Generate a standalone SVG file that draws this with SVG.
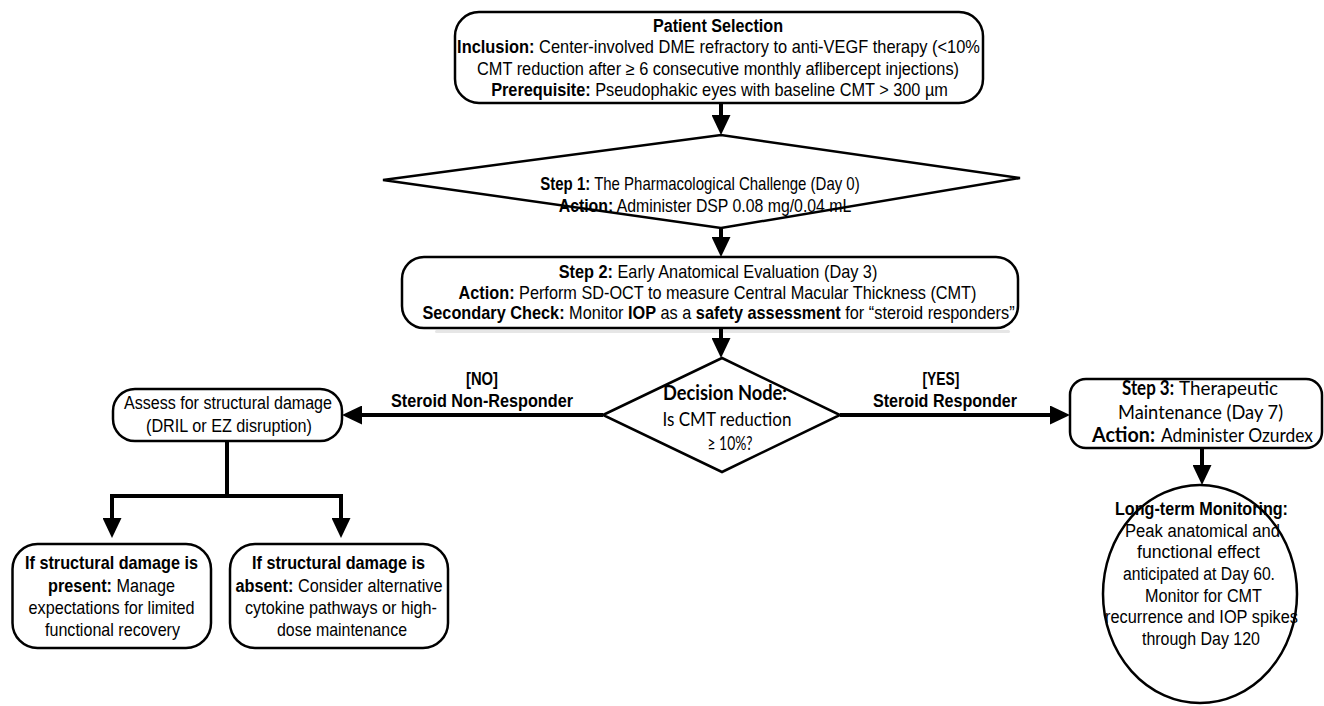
<svg xmlns="http://www.w3.org/2000/svg" width="1324" height="706" viewBox="0 0 1324 706">
<style>
.box{fill:#fff;stroke:#000;stroke-width:2.5}
.con{fill:none;stroke:#000;stroke-width:4;stroke-linejoin:miter}
.a{font-family:"Liberation Sans",Arial,sans-serif;font-size:18px;fill:#000;text-anchor:middle}
.a19{font-size:19px}
.c{font-family:Lato,"Open Sans",sans-serif;font-size:20px;fill:#000;text-anchor:middle}
.s{text-anchor:start}
.b{font-weight:bold}
</style>
<defs>
<marker id="ah" markerUnits="userSpaceOnUse" markerWidth="20" markerHeight="19" viewBox="0 0 20 19" refX="10" refY="9.5" orient="auto">
<path d="M0,0 L20,9.5 L0,19 z" fill="#000"/>
</marker>
</defs>
<rect width="1324" height="706" fill="#fff"/>
<rect x="435" y="330" width="575" height="3" rx="1.5" fill="#e6e6e6"/>

<g id="connectors">
<path class="con" d="M721,103 V125" marker-end="url(#ah)"/>
<path class="con" d="M721,228 V247" marker-end="url(#ah)"/>
<path class="con" d="M721,328 V348" marker-end="url(#ah)"/>
<path class="con" d="M603,415 H352" marker-end="url(#ah)"/>
<path class="con" d="M840,415 H1060" marker-end="url(#ah)"/>
<path class="con" d="M1202,448 V475" marker-end="url(#ah)"/>
<path class="con" d="M227,441 V496"/>
<path class="con" d="M229,496 H112 V528" marker-end="url(#ah)"/>
<path class="con" d="M225,496 H341 V528" marker-end="url(#ah)"/>
<text class="a b" x="482" y="385" textLength="32" lengthAdjust="spacingAndGlyphs">[NO]</text>
<text class="a b" x="482" y="407" textLength="182" lengthAdjust="spacingAndGlyphs">Steroid Non-Responder</text>
<text class="a b" x="941" y="385" textLength="37" lengthAdjust="spacingAndGlyphs">[YES]</text>
<text class="a b" x="945" y="407" textLength="144" lengthAdjust="spacingAndGlyphs">Steroid Responder</text>
</g>

<g id="patient-selection">
<rect class="box" x="455" y="12" width="528" height="91" rx="24"/>
<text class="a b" x="718" y="32" textLength="130" lengthAdjust="spacingAndGlyphs">Patient Selection</text>
<text class="a" transform="translate(718.5,53) scale(0.9116,1)"><tspan class="b">Inclusion:</tspan> Center-involved DME refractory to anti-VEGF therapy (&lt;10%</text>
<text class="a" x="718" y="75" textLength="482" lengthAdjust="spacingAndGlyphs">CMT reduction after ≥ 6 consecutive monthly aflibercept injections)</text>
<text class="a" transform="translate(719.5,96) scale(0.9055,1)"><tspan class="b">Prerequisite:</tspan> Pseudophakic eyes with baseline CMT &gt; 300 µm</text>
</g>

<g id="step1">
<polygon class="box" points="383,180 721,135 1020,178 721,228"/>
<text class="a" transform="translate(700,190) scale(0.833,1)"><tspan class="b">Step 1:</tspan> The Pharmacological Challenge (Day 0)</text>
<text class="a" transform="translate(705,212) scale(0.88,1)"><tspan class="b">Action:</tspan> Administer DSP 0.08 mg/0.04 mL</text>
</g>

<g id="step2">
<rect class="box" x="402" y="257" width="616" height="71" rx="22"/>
<text class="a" transform="translate(718,278) scale(0.906,1)"><tspan class="b">Step 2:</tspan> Early Anatomical Evaluation (Day 3)</text>
<text class="a" transform="translate(717.5,299) scale(0.904,1)"><tspan class="b">Action:</tspan> Perform SD-OCT to measure Central Macular Thickness (CMT)</text>
<text class="a" transform="translate(718.5,319) scale(0.906,1)"><tspan class="b">Secondary Check:</tspan> Monitor <tspan class="b">IOP</tspan> as a <tspan class="b">safety assessment</tspan> for “steroid responders”</text>
</g>

<g id="decision">
<polygon class="box" points="603,415 722,358 840,415 722,472"/>
<text class="c b" x="725" y="400" textLength="124" lengthAdjust="spacingAndGlyphs">Decision Node:</text>
<text class="c" x="727" y="426" textLength="129" lengthAdjust="spacingAndGlyphs">Is CMT reduction</text>
<text class="c" x="730" y="450" textLength="45" lengthAdjust="spacingAndGlyphs">≥ 10%?</text>
</g>

<g id="assess">
<rect class="box" x="113" y="389" width="229" height="52" rx="22"/>
<text class="a" x="228" y="409" textLength="208" lengthAdjust="spacingAndGlyphs">Assess for structural damage</text>
<text class="a" x="229" y="432" textLength="166" lengthAdjust="spacingAndGlyphs">(DRIL or EZ disruption)</text>
</g>

<g id="step3">
<rect class="box" x="1070" y="379" width="252" height="69" rx="16"/>
<text class="c s b" x="1122" y="395" textLength="52" lengthAdjust="spacingAndGlyphs">Step 3:</text>
<text class="c s" x="1179" y="395" textLength="99" lengthAdjust="spacingAndGlyphs">Therapeutic</text>
<text class="c" x="1200.5" y="419" textLength="165" lengthAdjust="spacingAndGlyphs">Maintenance (Day 7)</text>
<text class="c s b" x="1092" y="442" textLength="63" lengthAdjust="spacingAndGlyphs">Action:</text>
<text class="c s" x="1161" y="442" textLength="152" lengthAdjust="spacingAndGlyphs">Administer Ozurdex</text>
</g>

<g id="monitoring">
<ellipse class="box" cx="1200" cy="594" rx="97" ry="109"/>
<text class="a b" x="1201.5" y="515" textLength="173" lengthAdjust="spacingAndGlyphs">Long-term Monitoring:</text>
<text class="a" x="1202.5" y="537" textLength="155" lengthAdjust="spacingAndGlyphs">Peak anatomical and</text>
<text class="a" x="1198.5" y="558" textLength="123" lengthAdjust="spacingAndGlyphs">functional effect</text>
<text class="a" x="1199" y="580" textLength="152" lengthAdjust="spacingAndGlyphs">anticipated at Day 60.</text>
<text class="a" x="1203.5" y="602" textLength="117" lengthAdjust="spacingAndGlyphs">Monitor for CMT</text>
<text class="a" x="1201.5" y="623" textLength="193" lengthAdjust="spacingAndGlyphs">recurrence and IOP spikes</text>
<text class="a" x="1201" y="645" textLength="118" lengthAdjust="spacingAndGlyphs">through Day 120</text>
</g>

<g id="damage-present">
<rect class="box" x="12.5" y="544" width="198.5" height="104" rx="25"/>
<text class="a a19 b" x="111.5" y="569" textLength="173" lengthAdjust="spacingAndGlyphs">If structural damage is</text>
<text class="a a19" transform="translate(111.5,591.5) scale(0.853,1)"><tspan class="b">present:</tspan> Manage</text>
<text class="a a19" x="111.5" y="614" textLength="166" lengthAdjust="spacingAndGlyphs">expectations for limited</text>
<text class="a a19" x="112.5" y="636" textLength="135" lengthAdjust="spacingAndGlyphs">functional recovery</text>
</g>

<g id="damage-absent">
<rect class="box" x="230" y="544" width="218" height="104" rx="25"/>
<text class="a a19 b" x="338.5" y="569" textLength="173" lengthAdjust="spacingAndGlyphs">If structural damage is</text>
<text class="a a19" transform="translate(339,591.5) scale(0.856,1)"><tspan class="b">absent:</tspan> Consider alternative</text>
<text class="a a19" x="341" y="614" textLength="192" lengthAdjust="spacingAndGlyphs">cytokine pathways or high-</text>
<text class="a a19" x="342" y="636" textLength="130" lengthAdjust="spacingAndGlyphs">dose maintenance</text>
</g>
</svg>
